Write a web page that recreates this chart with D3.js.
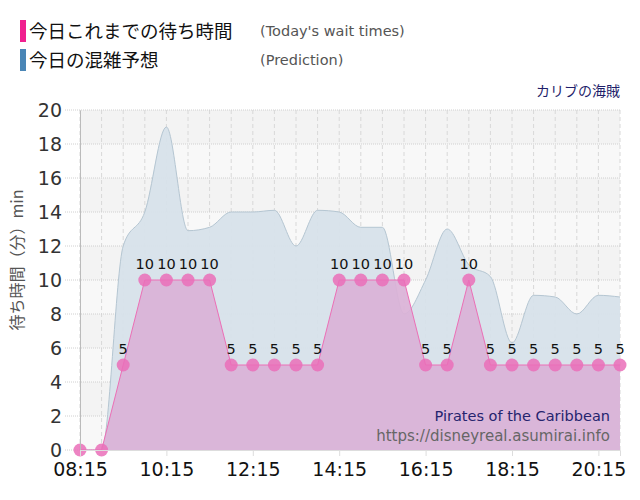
<!DOCTYPE html>
<html>
<head>
<meta charset="utf-8">
<script src="https://cdn.jsdelivr.net/npm/d3@7"></script>
<style>
  body { margin: 0; background: #fff; }
  text { font-family: "DejaVu Sans", Verdana, sans-serif; }
  .jp { font-family: "Noto Sans CJK JP", sans-serif; }
</style>
</head>
<body>
<div id="chart"></div>
<script>
// times every 30 min, 08:15 .. 20:45
var times = ["08:15","08:45","09:15","09:45","10:15","10:45","11:15","11:45","12:15","12:45",
             "13:15","13:45","14:15","14:45","15:15","15:45","16:15","16:45","17:15","17:45",
             "18:15","18:45","19:15","19:45","20:15","20:45"];
var waitTimes = [0,0,5,10,10,10,10,5,5,5,5,5,10,10,10,10,5,5,10,5,5,5,5,5,5,5];
var prediction = [0,0,12,14,19,12.9,13.1,14,14,14.1,12,14.1,14,13.1,13.1,8,10,13,10.9,10.2,6.3,9.1,9,8,9.1,9];
var xTickLabels = ["08:15","10:15","12:15","14:15","16:15","18:15","20:15"];
var yTicks = [0,2,4,6,8,10,12,14,16,18,20];

var W = 640, H = 500;
var mLeft = 80, mRight = 620, mTop = 110, mBottom = 450;

var toMin = function(s) { var p = s.split(":"); return +p[0] * 60 + +p[1]; };
var fmt = function(m) { return d3.format("02")(Math.floor(m / 60)) + ":" + d3.format("02")(m % 60); };

var x = d3.scaleLinear().domain([toMin(times[0]), toMin(times[times.length - 1])]).range([mLeft, mRight]);
var y = d3.scaleLinear().domain([0, 20]).range([mBottom, mTop]);

var svg = d3.select("#chart").append("svg").attr("width", W).attr("height", H);

// background bands
svg.append("g").selectAll("rect")
  .data(d3.range(0, 20, 2))
  .enter().append("rect")
    .attr("x", mLeft).attr("width", mRight - mLeft)
    .attr("y", d => y(d + 2)).attr("height", d => y(d) - y(d + 2))
    .attr("fill", (d, i) => i % 2 ? "#f3f3f3" : "#f8f8f8");

// vertical grid
svg.append("g").selectAll("line")
  .data(times.map(toMin))
  .enter().append("line")
    .attr("x1", d => x(d)).attr("x2", d => x(d))
    .attr("y1", mTop).attr("y2", mBottom)
    .attr("stroke", "#d8d8d8").attr("stroke-dasharray", "4,3");

// horizontal grid
svg.append("g").selectAll("line")
  .data(yTicks)
  .enter().append("line")
    .attr("x1", mLeft - 15).attr("x2", mRight)
    .attr("y1", d => y(d)).attr("y2", d => y(d))
    .attr("stroke", "#d0d0d0").attr("stroke-dasharray", "1,1");

// prediction area
var area = d3.area().x((d, i) => x(toMin(times[i]))).y0(y(0)).y1(d => y(d)).curve(d3.curveMonotoneX);
var line = d3.line().x((d, i) => x(toMin(times[i]))).y(d => y(d)).curve(d3.curveMonotoneX);
svg.append("path").datum(prediction).attr("d", area).attr("fill", "#d7e2ea").attr("fill-opacity", 0.95);
svg.append("path").datum(prediction).attr("d", line).attr("fill", "none").attr("stroke", "#b5c6d2").attr("stroke-width", 1);

// today's wait times
var areaW = d3.area().x((d, i) => x(toMin(times[i]))).y0(y(0)).y1(d => y(d));
var lineW = d3.line().x((d, i) => x(toMin(times[i]))).y(d => y(d));
svg.append("path").datum(waitTimes).attr("d", areaW).attr("fill", "#dab2d7").attr("fill-opacity", 0.92);
svg.append("path").datum(waitTimes).attr("d", lineW).attr("fill", "none").attr("stroke", "#ec6fb6").attr("stroke-width", 1);

var pts = waitTimes.map((d, i) => ({v: d, t: toMin(times[i])}));

svg.append("g").selectAll("circle")
  .data(pts)
  .enter().append("circle")
    .attr("cx", d => x(d.t))
    .attr("cy", d => y(d.v))
    .attr("r", 6.5)
    .attr("fill", "#ea6fb8").attr("fill-opacity", 0.85);

svg.append("g").selectAll("text")
  .data(pts.filter(d => d.v > 0))
  .enter().append("text")
    .attr("x", d => x(d.t))
    .attr("y", d => y(d.v) - 11)
    .attr("text-anchor", "middle")
    .attr("font-size", "14.5px").attr("fill", "#111")
    .text(d => d.v);

// axes
var yAxis = d3.axisLeft(y).tickValues(yTicks).tickSize(0).tickPadding(18);
var gy = svg.append("g").attr("transform", "translate(" + mLeft + ",0)").call(yAxis);
gy.select(".domain").attr("stroke", "#bbb");
gy.selectAll("text").attr("font-size", "19px").attr("fill", "#333")
  .attr("font-family", "DejaVu Sans, sans-serif");

var xAxis = d3.axisBottom(x).tickValues(xTickLabels.map(toMin)).tickFormat(fmt).tickSize(6).tickPadding(7);
var gx = svg.append("g").attr("transform", "translate(0," + mBottom + ")").call(xAxis);
gx.select(".domain").attr("stroke", "#ddd");
gx.selectAll(".tick line").attr("stroke", "#ddd");
gx.selectAll("text").attr("font-size", "19px").attr("fill", "#111")
  .attr("font-family", "DejaVu Sans, sans-serif");

// y label
svg.append("text")
  .attr("transform", "translate(23,260) rotate(-90)")
  .attr("text-anchor", "middle")
  .attr("font-size", "16px").attr("fill", "#555")
  .attr("class", "jp")
  .text("待ち時間（分）min");

// legend
var legend = [
  {jp: "今日これまでの待ち時間", en: "(Today's wait times)", color: "#f0208f"},
  {jp: "今日の混雑予想", en: "(Prediction)", color: "#4a86b6"}
];
var lg = svg.append("g").selectAll("g").data(legend).enter().append("g")
  .attr("transform", (d, i) => "translate(0," + (i * 29) + ")");
lg.append("rect").attr("x", 20).attr("y", 20).attr("width", 6).attr("height", 22).attr("fill", d => d.color);
lg.append("text").attr("class", "jp").attr("x", 29).attr("y", 38)
  .attr("font-size", "18.5px").attr("fill", "#111").text(d => d.jp);
lg.append("text").attr("x", 260).attr("y", 36)
  .attr("font-size", "14.5px").attr("fill", "#555").text(d => d.en);

// titles
svg.append("text").attr("class", "jp").attr("x", 620).attr("y", 96)
  .attr("text-anchor", "end").attr("font-size", "14px").attr("fill", "#1f1f6b").text("カリブの海賊");
svg.append("text").attr("x", 610).attr("y", 421)
  .attr("text-anchor", "end").attr("font-size", "14.5px").attr("fill", "#25246e").text("Pirates of the Caribbean");
svg.append("text").attr("x", 610).attr("y", 441)
  .attr("text-anchor", "end").attr("font-size", "15px").attr("fill", "#666").text("https://disneyreal.asumirai.info");
</script>
</body>
</html>
